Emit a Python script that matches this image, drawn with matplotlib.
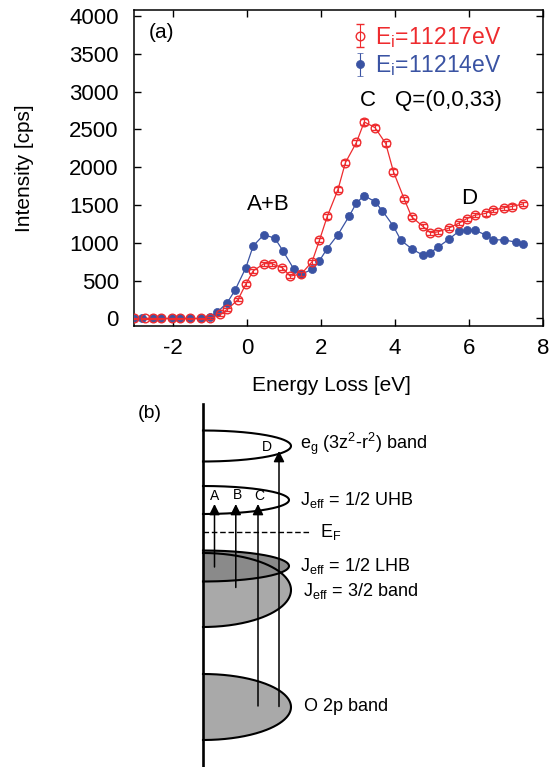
import numpy as np
import matplotlib
matplotlib.use("Agg")
import matplotlib.pyplot as plt

plt.rcParams['font.family'] = ['Liberation Sans', 'DejaVu Sans']
plt.rcParams['mathtext.fontset'] = 'custom'
plt.rcParams['mathtext.rm'] = 'Liberation Sans'
plt.rcParams['mathtext.it'] = 'Liberation Sans:italic'
plt.rcParams['mathtext.bf'] = 'Liberation Sans:bold'
plt.rcParams['axes.unicode_minus'] = False

# ---------------- data (panel a) ----------------
red_x = [-3.05, -2.74, -2.53, -2.32, -2.02, -1.82, -1.53, -1.23, -1.01, -0.72,
         -0.53, -0.24, -0.03, 0.17, 0.46, 0.67, 0.96, 1.17, 1.47, 1.76,
         1.96, 2.17, 2.46, 2.66, 2.96, 3.17, 3.46, 3.75, 3.96, 4.25,
         4.45, 4.75, 4.96, 5.15, 5.45, 5.74, 5.94, 6.15, 6.45, 6.66,
         6.95, 7.15, 7.46]
red_y = [0, 0, 0, 0, 0, 0, 0, 0, 10, 55,
         120, 250, 455, 630, 725, 725, 670, 560, 590, 750,
         1035, 1350, 1705, 2060, 2330, 2600, 2525, 2315, 1940, 1580,
         1345, 1220, 1135, 1145, 1195, 1265, 1320, 1365, 1390, 1435,
         1465, 1480, 1515]
red_err = [12, 12, 12, 12, 12, 12, 12, 12, 14, 16,
           18, 20, 22, 24, 25, 25, 24, 22, 22, 25,
           28, 30, 32, 34, 36, 38, 37, 36, 33, 30,
           28, 26, 25, 25, 26, 27, 27, 28, 28, 28,
           29, 29, 29]

blue_x = [-3.05, -2.83, -2.53, -2.32, -2.02, -1.82, -1.53, -1.23, -1.01, -0.81,
          -0.53, -0.32, -0.03, 0.17, 0.46, 0.76, 0.98, 1.26, 1.47, 1.76,
          1.96, 2.17, 2.46, 2.77, 2.96, 3.17, 3.46, 3.66, 3.96, 4.16,
          4.47, 4.75, 4.96, 5.15, 5.45, 5.74, 5.94, 6.15, 6.45, 6.66,
          6.95, 7.26, 7.46]
blue_y = [0, 0, 0, 0, 0, 0, 0, 0, 20, 80,
          210, 375, 670, 960, 1110, 1060, 890, 660, 585, 650,
          765, 925, 1110, 1360, 1530, 1625, 1545, 1425, 1220, 1035,
          915, 840, 870, 940, 1045, 1160, 1170, 1170, 1105, 1040,
          1040, 1010, 990]
blue_err = [10, 10, 10, 10, 10, 10, 10, 10, 12, 14,
            16, 18, 22, 25, 27, 26, 24, 21, 20, 21,
            23, 25, 27, 30, 32, 33, 32, 30, 28, 26,
            24, 23, 24, 25, 26, 27, 27, 27, 26, 26,
            26, 25, 25]

red_label = r'E$_\mathrm{i}$=11217eV'
blue_label = r'E$_\mathrm{i}$=11214eV'
x_ticks = [-2, 0, 2, 4, 6, 8]
y_ticks = [0, 500, 1000, 1500, 2000, 2500, 3000, 3500, 4000]

RED = '#ee2b2e'
BLUE = '#3a53a3'

fig = plt.figure(figsize=(5.57, 7.67), dpi=100)
ax = fig.add_axes([0.2406, 0.575, 0.7343, 0.4126])

ax.plot(blue_x, blue_y, '-', color=BLUE, lw=0.9, zorder=2)
ax.plot(red_x, red_y, '-', color=RED, lw=0.9, zorder=2)
eb_b = ax.errorbar(blue_x, blue_y, yerr=blue_err, fmt='o', ms=5.8, mfc=BLUE, mec=BLUE,
                   mew=0.5, ecolor=BLUE, elinewidth=0.8, capsize=2, capthick=0.8, zorder=3)
eb_r = ax.errorbar(red_x, red_y, yerr=red_err, fmt='o', ms=6.2, mfc='none', mec=RED,
                   mew=1.0, ecolor=RED, elinewidth=0.8, capsize=3, capthick=0.8, zorder=4)

ax.set_xlim(-3.05, 8.0)
ax.set_ylim(-99, 4087)
ax.set_xticks(x_ticks)
ax.set_yticks(y_ticks)
ax.tick_params(direction='in', length=5, width=1.0, labelsize=16, top=True, right=True)
ax.tick_params(axis='y', pad=11)
ax.tick_params(axis='x', pad=9)
for s in ax.spines.values():
    s.set_linewidth(1.1)

ax.set_xlabel('Energy Loss [eV]', fontsize=15)
ax.xaxis.set_label_coords(0.483, -0.158)
ax.set_ylabel('Intensity [cps]', fontsize=15)
ax.yaxis.set_label_coords(-0.245, 0.5)

ax.text(0.066, 0.926, '(a)', transform=ax.transAxes, fontsize=15, ha='center', va='center')
ax.text(0.58, 1510, 'A+B', fontsize=16, ha='center', va='center')
ax.text(3.27, 2890, 'C', fontsize=16, ha='center', va='center')
ax.text(4.0, 2890, 'Q=(0,0,33)', fontsize=16, ha='left', va='center')
ax.text(6.0, 1590, 'D', fontsize=16, ha='center', va='center')

leg = ax.legend([eb_r, eb_b], [red_label, blue_label], loc='upper right',
                bbox_to_anchor=(0.898, 0.952), frameon=False, fontsize=16.5,
                handlelength=0.6, handletextpad=0.35, labelspacing=0.17,
                borderpad=0, borderaxespad=0, labelcolor=[RED, BLUE])

# ---------------- schematic (panel b), figure pixel coordinates ----------------
ax2 = fig.add_axes([0, 0, 1, 1])
ax2.set_xlim(0, 557)
ax2.set_ylim(767, 0)
ax2.axis('off')
ax2.patch.set_alpha(0)

X0 = 203
# band name: (centre y, half height, half width, fill)
bands = [
    ('j32', 590, 37, 88, '#a9a9a9'),
    ('lhb', 566, 15.5, 86, '#8a8a8a'),
    ('o2p', 707, 33, 88, '#a9a9a9'),
    ('eg', 446, 15.5, 88, None),
    ('uhb', 500, 14, 86, None),
]
t = np.linspace(-np.pi / 2, np.pi / 2, 200)
for name, cy, ry, rx, fc in bands:
    xs = X0 + rx * np.cos(t)
    ys = cy + ry * np.sin(t)
    if fc is not None:
        ax2.fill(xs, ys, color=fc, lw=0, zorder=2)
    ax2.plot(xs, ys, color='k', lw=1.5, zorder=3)

ax2.plot([X0, X0], [404, 767], color='k', lw=1.9, zorder=5)
ax2.plot([X0, 311], [532, 532], color='k', lw=1.0, ls=(0, (4, 2)), zorder=3)

# transitions: (x, start y, tip y, letter, letter x, letter y)
arrows = [
    (214.5, 567, 504, 'A', 215, 496),
    (235.8, 587.5, 504, 'B', 237, 495),
    (258, 706, 504, 'C', 259, 496),
    (279, 706.5, 451, 'D', 267, 447),
]
for x, y0, y1, lab, lx, ly in arrows:
    ax2.annotate('', xy=(x, y1), xytext=(x, y0),
                 arrowprops=dict(arrowstyle='-|>', color='k', lw=1.1,
                                 mutation_scale=16, shrinkA=0, shrinkB=0), zorder=6)
    ax2.text(lx, ly, lab, fontsize=10, ha='center', va='center', zorder=7)

ax2.text(150, 413, '(b)', fontsize=14, ha='center', va='center')
ax2.text(300, 449, r'e$_\mathrm{g}$ (3z$^\mathrm{2}$-r$^\mathrm{2}$) band', fontsize=13, ha='left', va='baseline')
ax2.text(300, 505, r'J$_\mathrm{eff}$ = 1/2 UHB', fontsize=13, ha='left', va='baseline')
ax2.text(320, 537, r'E$_\mathrm{F}$', fontsize=13, ha='left', va='baseline')
ax2.text(300, 571, r'J$_\mathrm{eff}$ = 1/2 LHB', fontsize=13, ha='left', va='baseline')
ax2.text(303, 596, r'J$_\mathrm{eff}$ = 3/2 band', fontsize=13, ha='left', va='baseline')
ax2.text(304, 711, 'O 2p band', fontsize=13, ha='left', va='baseline')

fig.savefig('out.png', dpi=100)
